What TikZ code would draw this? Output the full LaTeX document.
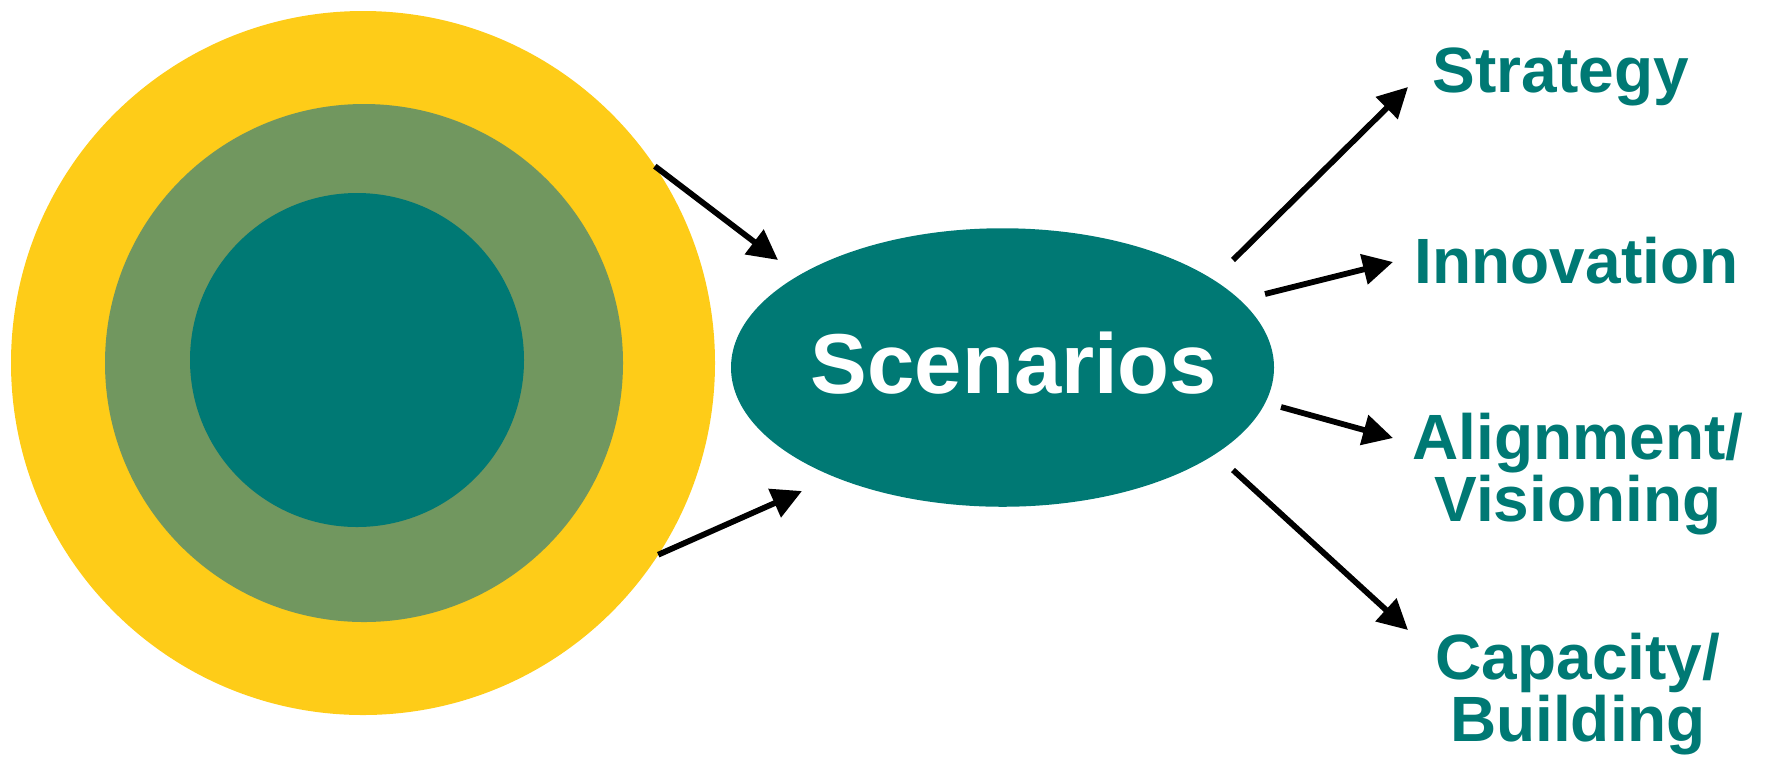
\documentclass[tikz,border=0pt]{standalone}
\usepackage{fontspec}
\setmainfont{Liberation Sans}
\usetikzlibrary{arrows.meta,shapes.geometric}
\definecolor{cteal}{RGB}{0,121,116}
\definecolor{cyellow}{RGB}{254,204,24}
\definecolor{cgreen}{RGB}{113,151,95}
\tikzset{
  disc/.style={circle, inner sep=0pt, outer sep=0pt, draw=none},
  arr/.style={line width=2.9pt, -{Triangle[length=15pt,width=15pt]}},
  lbl/.style={text=cteal, font=\fontsize{32pt}{29.5pt}\selectfont\bfseries, inner sep=0pt, align=center, anchor=base}
}
\begin{document}
\begin{tikzpicture}[x=0.5pt,y=-0.5pt]
\useasboundingbox (0,0) rectangle (1765,757);
\node[disc, fill=cyellow, minimum size=352pt] (outer) at (363,363) {};
\node[disc, fill=cgreen, minimum size=259pt] (middle) at (364,363) {};
\node[disc, fill=cteal, minimum size=167pt] (inner) at (357,360) {};
\node[ellipse, fill=cteal, inner sep=0pt, minimum width=271.5pt, minimum height=139.25pt] (scen) at (1002.5,367.5) {};
\node[text=white, font=\fontsize{42.5pt}{50pt}\selectfont\bfseries, inner sep=0pt, anchor=base] (scentext) at (1014,393) {Scenarios};
\node[lbl] (strategy) at (1561,92) {Strategy};
\node[lbl] (innovation) at (1576.5,283) {Innovation};
\node[lbl] (alignment) at (1578,521) {Alignment/\\Visioning};
\node[lbl] (capacity) at (1578,741) {Capacity/\\Building};
\coordinate (t1) at (778,260);
\coordinate (t2) at (802,491);
\coordinate (s3) at (1233,260);
\coordinate (t3) at (1408,87);
\coordinate (s4) at (1265,294);
\coordinate (t4) at (1393,262);
\coordinate (s5) at (1281,407);
\coordinate (t5) at (1393,438);
\coordinate (s6) at (1233,470);
\coordinate (t6) at (1408,630);
\draw[arr] (outer.34.4) -- (t1);
\draw[arr] (outer.-33.3) -- (t2);
\draw[arr] (s3) -- (t3);
\draw[arr] (s4) -- (t4);
\draw[arr] (s5) -- (t5);
\draw[arr] (s6) -- (t6);
\end{tikzpicture}
\end{document}
